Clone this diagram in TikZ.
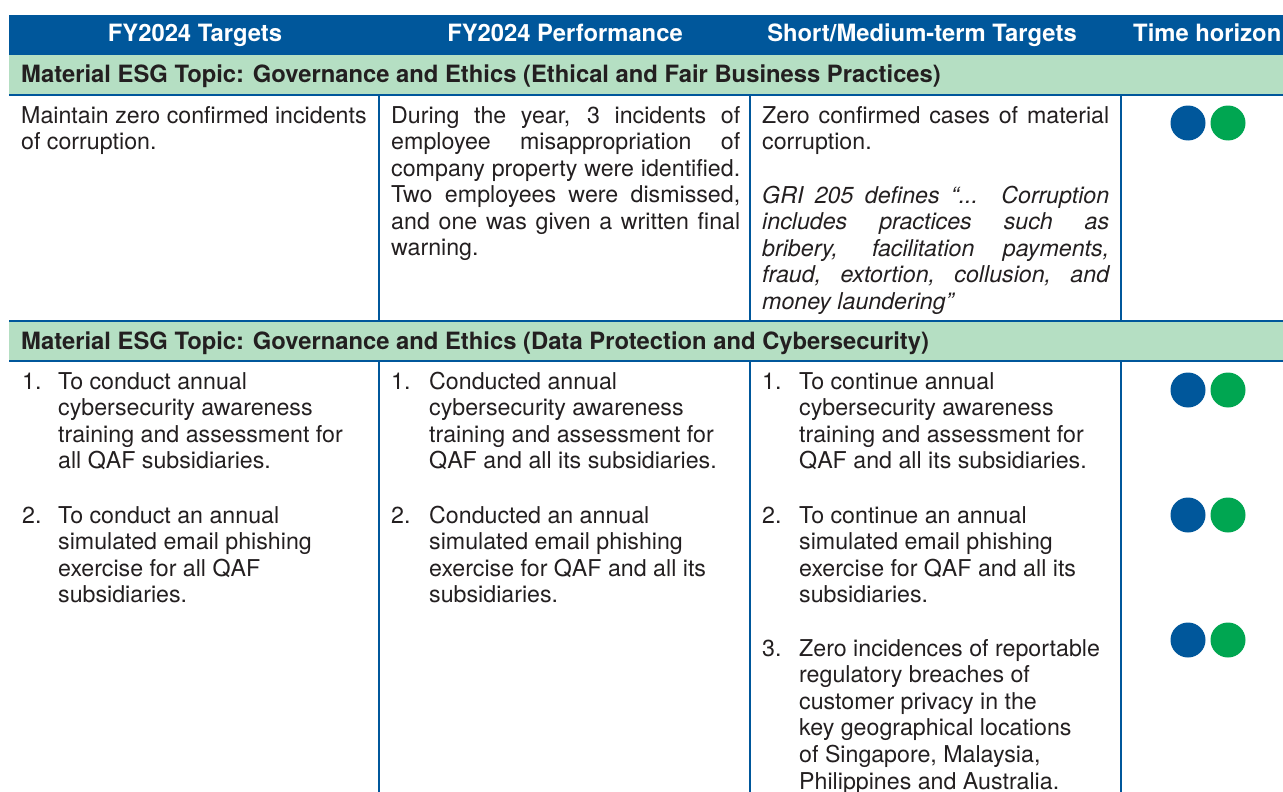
\documentclass[tikz,border=0pt]{standalone}
\usepackage{fontspec}
\setmainfont{TeX Gyre Heros}
\usetikzlibrary{positioning}
\definecolor{esgblue}{HTML}{00579B}
\definecolor{esggreen}{HTML}{00A651}
\definecolor{bandgreen}{HTML}{B5DFC3}
\definecolor{inkgray}{HTML}{231F20}
\newcommand{\tablefont}{\fontsize{23.2}{26.6}\selectfont}
\newcommand{\headfont}{\fontsize{23.8}{26.6}\selectfont\bfseries}
\newcommand{\esgcell}[2]{\parbox[t]{#1}{#2}}

\begin{document}
\begin{tikzpicture}[x=1pt, y=-1pt, line cap=butt,
  hdr/.style={anchor=base, inner sep=0, text=white, font=\headfont},
  band/.style={anchor=base west, inner sep=0, text=inkgray, font=\headfont},
  body/.style={anchor=base west, inner sep=0, text=inkgray, font=\tablefont},
  rule/.style={esgblue, line width=1.4pt},
  dotb/.style={fill=esgblue, draw=none},
  dotg/.style={fill=esggreen, draw=none}]
  \useasboundingbox (0,0) rectangle (1283,792);
  \clip (0,0) rectangle (1283,792);
  % header and topic bands
  \fill [esgblue] (9,15) rectangle (1290,55);
  \fill [bandgreen] (9,55) rectangle (1290,95);
  \fill [bandgreen] (9,321) rectangle (1290,361);
  \draw [rule] (9,95) -- (1290,95);
  \draw [rule] (9,321) -- (1290,321);
  \draw [rule] (9,361) -- (1290,361);
  \foreach \cx in {379,750,1121} {
    \draw [rule] (\cx,95) -- (\cx,321);
    \draw [rule] (\cx,361) -- (\cx,800);
  }
  \node [hdr] (h1) at (195,42) {FY2024 Targets};
  \node [hdr] (h2) at (565,42) {FY2024 Performance};
  \node [hdr] (h3) at (922,42) {Short/Medium-term Targets};
  \node [hdr, anchor=base west] (h4) at (1133,42) {Time horizon};
  \node [band] (topic1) at (21,82) {Material ESG Topic: Governance and Ethics (Ethical and Fair Business Practices)};
  \node [band] (topic2) at (21,349) {Material ESG Topic: Governance and Ethics (Data Protection and Cybersecurity)};
  % row 1
  \node [body] (a1) at (21,123) {\esgcell{350pt}{\raggedright Maintain zero confirmed incidents\\of corruption.}};
  \node [body] (b1) at (391,123) {\esgcell{349pt}{During the year, 3 incidents of\linebreak
    employee misappropriation of\linebreak company property were identified.\linebreak
    Two employees were dismissed,\linebreak and one was given a written final\linebreak warning.}};
  \node [body] (c1) at (762,123) {\esgcell{347pt}{Zero confirmed cases of material\linebreak corruption.}};
  \node [body] (c1n) at (762,203) {\esgcell{347pt}{\itshape GRI 205 defines \textquotedblleft... Corruption\linebreak
    includes practices such as\linebreak bribery, facilitation payments,\linebreak
    fraud, extortion, collusion, and\linebreak money laundering\textquotedblright}};
  \fill [dotb] (1188,123) circle (17.5) coordinate (t1b);
  \fill [dotg] (1228,123) circle (17.5) coordinate (t1g);
  % row 2
  \node [body] (a2n) at (22,389) {1.};
  \node [body] (a2) at (58,389) {\esgcell{320pt}{\raggedright To conduct annual\\cybersecurity awareness\\training and assessment for\\all QAF subsidiaries.}};
  \node [body] (a3n) at (22,523) {2.};
  \node [body] (a3) at (58,523) {\esgcell{320pt}{\raggedright To conduct an annual\\simulated email phishing\\exercise for all QAF\\subsidiaries.}};
  \node [body] (b2n) at (391,389) {1.};
  \node [body] (b2) at (429,389) {\esgcell{310pt}{\raggedright Conducted annual\\cybersecurity awareness\\training and assessment for\\QAF and all its subsidiaries.}};
  \node [body] (b3n) at (391,523) {2.};
  \node [body] (b3) at (429,523) {\esgcell{310pt}{\raggedright Conducted an annual\\simulated email phishing\\exercise for QAF and all its\\subsidiaries.}};
  \node [body] (c2n) at (762,389) {1.};
  \node [body] (c2) at (799,389) {\esgcell{310pt}{\raggedright To continue annual\\cybersecurity awareness\\training and assessment for\\QAF and all its subsidiaries.}};
  \node [body] (c3n) at (762,523) {2.};
  \node [body] (c3) at (799,523) {\esgcell{310pt}{\raggedright To continue an annual\\simulated email phishing\\exercise for QAF and all its\\subsidiaries.}};
  \node [body] (c4n) at (762,656) {3.};
  \node [body] (c4) at (799,656) {\esgcell{310pt}{\raggedright Zero incidences of reportable\\regulatory breaches of\\customer privacy in the\\key geographical locations\\of Singapore, Malaysia,\\Philippines and Australia.}};
  \foreach \ty/\tn in {390/t2,515/t3,640/t4} {
    \fill [dotb] (1188,\ty) circle (17.5) coordinate (\tn b);
    \fill [dotg] (1228,\ty) circle (17.5) coordinate (\tn g);
  }
\end{tikzpicture}
\end{document}
